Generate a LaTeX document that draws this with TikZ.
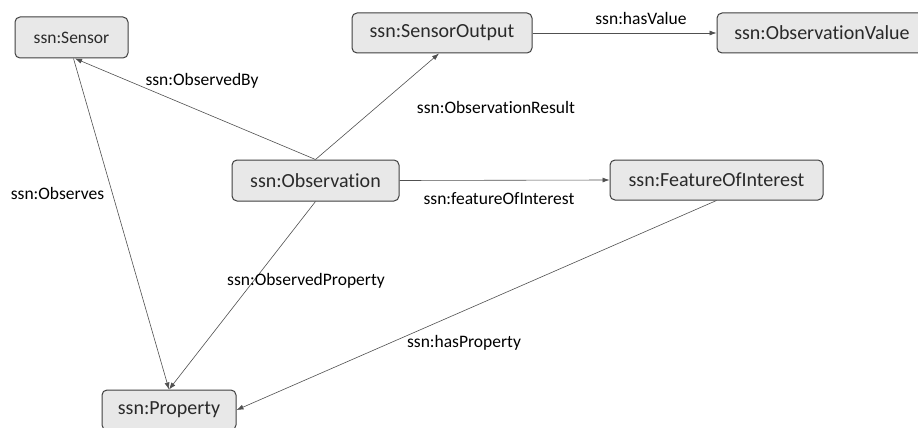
\documentclass[tikz,border=0pt]{standalone}
\usepackage{fontspec}
\setmainfont{Carlito}[Ligatures={NoCommon,NoRequired,NoContextual,NoDiscretionary}]
\usetikzlibrary{arrows.meta,calc}
\definecolor{boxfill}{HTML}{E8E8E8}
\definecolor{boxline}{HTML}{404040}
\definecolor{boxtext}{HTML}{2A2A2A}
\definecolor{edgeline}{HTML}{505050}
\tikzset{
  cls/.style={draw=boxline, line width=1pt, fill=boxfill, rounded corners=5pt,
    text=boxtext, font=\fontsize{20}{24}\selectfont, inner sep=0pt, minimum height=40pt},
  rel/.style={draw=edgeline, line width=0.6pt, -{Latex[length=7pt,width=5pt]}},
  lbl/.style={font=\fontsize{17.5}{21}\selectfont, text=black, inner sep=0pt}
}
\begin{document}
\begin{tikzpicture}[x=1pt,y=1pt]
\useasboundingbox (0,0) rectangle (918,-428);
\clip (0,0) rectangle (918,-428);
\fill[white] (0,0) rectangle (918,-428);

\node[cls, minimum width=113pt, minimum height=41pt, font=\fontsize{17.5}{21}\selectfont] (sensor) at (71.5,-37.5) {ssn:Sensor};
\node[cls, minimum width=180pt] (output) at (442,-33) {ssn:SensorOutput};
\node[cls, minimum width=210pt] (value) at (822,-33) {ssn:ObservationValue};
\node[cls, minimum width=167pt, minimum height=41pt] (obs) at (315.5,-180.5) {ssn:Observation};
\node[cls, minimum width=213pt] (foi) at (716.5,-180) {ssn:FeatureOfInterest};
\node[cls, minimum width=134pt] (prop) at (169,-410) {ssn:Property};

\draw[rel] (obs.north) -- ([xshift=3.5pt]sensor.south);
\draw[rel] ([xshift=2pt]sensor.south) -- (prop.north);
\draw[rel] (obs.north) -- ([xshift=-3pt]output.south);
\draw[rel] (output.east) -- (value.west);
\draw[rel] (obs.east) -- (foi.west);
\draw[rel] (obs.south) -- (prop.north);
\draw[rel] (foi.south) -- (prop.east);

\node[lbl] (l1) at (202,-81) {ssn:ObservedBy};
\node[lbl] (l2) at (496,-107) {ssn:ObservationResult};
\node[lbl] (l3) at (641,-18) {ssn:hasValue};
\node[lbl] (l4) at (499,-199) {ssn:featureOfInterest};
\node[lbl] (l5) at (57.5,-193) {ssn:Observes};
\node[lbl] (l6) at (306,-281) {ssn:ObservedProperty};
\node[lbl] (l7) at (464,-343) {ssn:hasProperty};
\end{tikzpicture}
\end{document}
